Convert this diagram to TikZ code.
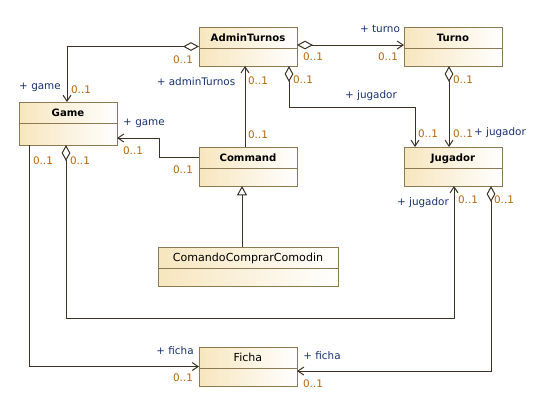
\documentclass[tikz,border=0pt]{standalone}
\usepackage{fontspec}
\setmainfont{DejaVu Sans}
\usepackage{tikz}
\usetikzlibrary{arrows.meta,positioning,shadows}
\definecolor{brd}{HTML}{8C7A52}
\definecolor{cream}{HTML}{F7E6BE}
\definecolor{ln}{HTML}{3B3224}
\definecolor{mult}{HTML}{B8650C}
\definecolor{role}{HTML}{16306E}

\begin{document}
\begin{tikzpicture}[x=0.75pt,y=-0.75pt,
  c/.style={draw=brd,line width=0.75pt,left color=cream,right color=white,
    minimum width=73.5pt,minimum height=29.25pt,inner sep=0pt,outer sep=0pt,
    text height=10.6pt,text depth=18.65pt,font=\fontsize{7.6pt}{9pt}\selectfont\bfseries,
    drop shadow={shadow xshift=1.1pt,shadow yshift=-1.1pt,fill=black!45},
    path picture={\draw[brd,line width=0.75pt] ([yshift=-15.75pt]path picture bounding box.north west) -- ([yshift=-15.75pt]path picture bounding box.north east);}},
  cr/.style={c,font=\fontsize{8.3pt}{10pt}\selectfont},
  mu/.style={font=\fontsize{7.8pt}{9pt}\selectfont,text=mult,inner sep=0pt},
  ro/.style={font=\fontsize{7.8pt}{9pt}\selectfont,text=role,inner sep=0pt},
  as/.style={ln,line width=0.75pt,-{Straight Barb[length=4.5pt,width=6pt]}},
  ag/.style={ln,line width=0.75pt,{Diamond[open,length=12pt,width=6.5pt]}-{Straight Barb[length=4.5pt,width=6pt]}},
  ge/.style={ln,line width=0.75pt,-{Triangle[open,length=7pt,width=7.5pt]}}]
  \useasboundingbox (0,0) rectangle (546,411);
  % clases
  \node[c] (admin) at (248,46.5) {AdminTurnos};
  \node[c,right=80.25pt of admin] (turno) {Turno};
  \node[c,below=60.75pt of admin] (command) {Command};
  \node[c,below=60.75pt of turno] (jugador) {Jugador};
  \node[cr,below=45.75pt of command,minimum width=135pt] (ccc) {ComandoComprarComodin};
  \node[cr,below=45.75pt of ccc] (ficha) {Ficha};
  \node[c,minimum height=32.25pt,text depth=21.65pt] (game) at (68,123.5) {Game};
  % asociaciones
  \draw[ag] (admin.west) -| ([xshift=-0.75pt]game.north);
  \draw[ag] ([yshift=1.1pt]admin.east) -- ([yshift=1.1pt]turno.west);
  \draw[ag] ([xshift=30.75pt]admin.south) -- ++(0,41) -| ([xshift=-28.5pt]jugador.north);
  \draw[ag] ([xshift=-3pt]turno.south) -- ([xshift=-3pt]jugador.north);
  \draw[as] ([xshift=-2.25pt]command.north) -- ([xshift=-2.25pt]admin.south);
  \draw[as] ([yshift=7.1pt]command.west) -- ++(-40,0) |- ([yshift=-10.9pt]game.east);
  \draw[ge] ([xshift=-4.5pt]ccc.north) -- ([xshift=-4.5pt]command.south);
  \draw[ag] ([xshift=-1.5pt]game.south) -- ++(0,173) -| ([xshift=0.75pt]jugador.south);
  \draw[as] ([xshift=-29.25pt]game.south) |- (ficha.west);
  \draw[ag] ([xshift=28.5pt]jugador.south) |- ([yshift=-3.4pt]ficha.east);
  % roles y multiplicidades
  \node[mu] (m1a) at (183,60) {0..1};
  \node[ro] (r1) at (40,87) {+ game};
  \node[mu] (m1b) at (81,90) {0..1};
  \node[mu] (m2a) at (313,57) {0..1};
  \node[ro] (r2) at (380,29) {+ turno};
  \node[mu] (m2b) at (388,57) {0..1};
  \node[mu] (m3a) at (303,80) {0..1};
  \node[ro] (r3) at (371,96) {+ jugador};
  \node[mu] (m3b) at (428,134) {0..1};
  \node[mu] (m4a) at (463,80) {0..1};
  \node[mu] (m4b) at (463,134) {0..1};
  \node[ro] (r4) at (500,133) {+ jugador};
  \node[ro] (r5) at (196,82) {+ adminTurnos};
  \node[mu] (m5a) at (258,81) {0..1};
  \node[mu] (m5b) at (258,135) {0..1};
  \node[ro] (r6) at (144,123) {+ game};
  \node[mu] (m6a) at (133,151) {0..1};
  \node[mu] (m6b) at (183,170) {0..1};
  \node[mu] (m8a) at (80,161) {0..1};
  \node[ro] (r8) at (423,203) {+ jugador};
  \node[mu] (m8b) at (468,200) {0..1};
  \node[mu] (m9a) at (43,161) {0..1};
  \node[ro] (r9) at (175,351) {+ ficha};
  \node[mu] (m9b) at (183,378) {0..1};
  \node[mu] (m10a) at (504,200) {0..1};
  \node[ro] (r10) at (322,356) {+ ficha};
  \node[mu] (m10b) at (313,384) {0..1};
\end{tikzpicture}
\end{document}
